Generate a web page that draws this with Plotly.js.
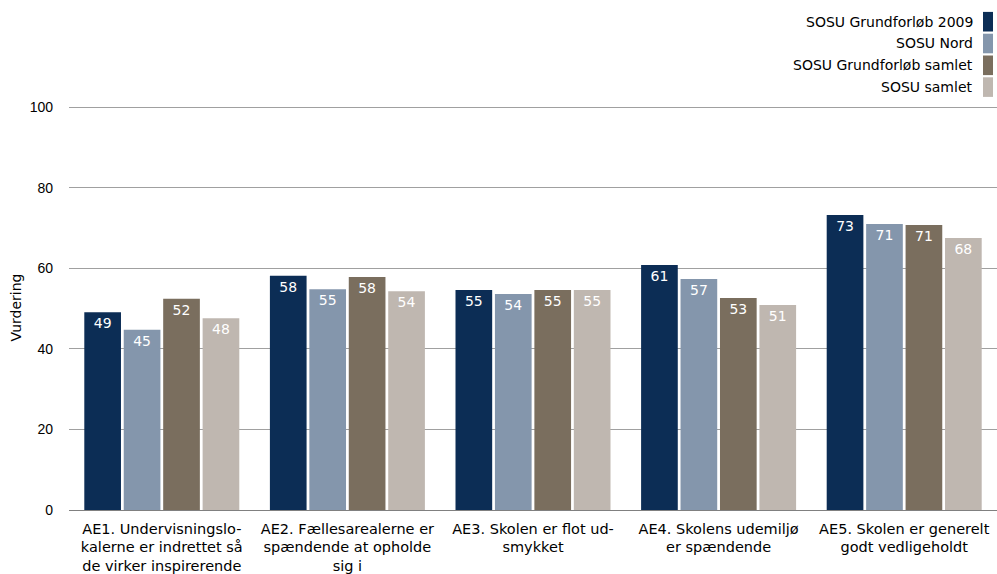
<!DOCTYPE html>
<html>
<head>
<meta charset="utf-8">
<script src="https://cdn.plot.ly/plotly-3.0.1.min.js"></script>
<style>html,body{margin:0;padding:0;background:#fff;}#chart{width:997px;height:574px;}</style>
</head>
<body>
<div id="chart"></div>
<script>
const categories = [
  "AE1. Undervisningslo-<br>kalerne er indrettet så<br>de virker inspirerende",
  "AE2. Fællesarealerne er<br>spændende at opholde<br>sig i",
  "AE3. Skolen er flot ud-<br>smykket",
  "AE4. Skolens udemiljø<br>er spændende",
  "AE5. Skolen er generelt<br>godt vedligeholdt"
];
const seriesNames = ["SOSU Grundforløb 2009", "SOSU Nord", "SOSU Grundforløb samlet", "SOSU samlet"];
const grundforloeb2009 = [49.1, 58.1, 54.6, 60.8, 73.2];
const sosuNord = [44.7, 54.8, 53.6, 57.3, 71.0];
const grundforloebSamlet = [52.4, 57.8, 54.6, 52.6, 70.7];
const sosuSamlet = [47.6, 54.3, 54.6, 50.9, 67.5];
const seriesValues = [grundforloeb2009, sosuNord, grundforloebSamlet, sosuSamlet];
const colors = ["#0c2d55", "#8496ac", "#7a6e5e", "#bfb7b0"];
const yTicks = [0, 20, 40, 60, 80, 100];

const FONT = "DejaVu Sans, Verdana, sans-serif";
const TICKFONT = "Liberation Sans, Arial, sans-serif";

const traces = seriesNames.map((name, i) => ({
  type: "bar",
  name: name,
  x: categories,
  y: seriesValues[i],
  marker: {color: colors[i]},
  texttemplate: "%{y:.0f}",
  textposition: "inside",
  insidetextanchor: "end",
  textangle: 0,
  insidetextfont: {family: FONT, size: 14, color: "#ffffff"},
  hoverinfo: "skip",
  showlegend: false
}));

const ML = 69, MR = 0, MT = 105, MB = 64, W = 997, H = 574;

const layout = {
  width: W, height: H,
  margin: {l: ML, r: MR, t: MT, b: MB},
  paper_bgcolor: "#fff", plot_bgcolor: "#fff",
  barmode: "group",
  bargap: 0.15,
  bargroupgap: 0.07,
  font: {family: FONT, size: 14, color: "#000"},
  xaxis: {
    type: "category",
    tickfont: {family: FONT, size: 14.5, color: "#000"},
    showgrid: false, showline: false, ticks: "", zeroline: false,
    ticklabelstandoff: 8,
    automargin: false
  },
  yaxis: {
    range: [0, 100.5],
    tickvals: yTicks,
    tickfont: {family: TICKFONT, size: 14, color: "#000"},
    showgrid: true, gridcolor: "#a0a0a0", gridwidth: 1,
    zeroline: true, zerolinecolor: "#808080", zerolinewidth: 1,
    showline: false, ticks: "", ticklabelstandoff: 15,
    title: {text: "Vurdering", font: {family: FONT, size: 14, color: "#000"}, standoff: 4},
    automargin: false
  },
  shapes: [],
  annotations: []
};

// legend (text left of swatch), positioned in paper coordinates
const plotW = W - ML - MR, plotH = H - MT - MB;
function px2paperX(px) { return (px - ML) / plotW; }
function px2paperY(py) { return (H - MB - py) / plotH; }
seriesNames.forEach((name, i) => {
  const yc = 21.7 + i * 21.8;
  layout.shapes.push({
    type: "rect", xref: "paper", yref: "paper",
    x0: px2paperX(983), x1: px2paperX(993),
    y0: px2paperY(yc + 9.8), y1: px2paperY(yc - 9.8),
    fillcolor: colors[i], line: {width: 0}
  });
  layout.annotations.push({
    xref: "paper", yref: "paper",
    x: px2paperX(975), y: px2paperY(yc),
    text: name, showarrow: false,
    xanchor: "right", yanchor: "middle",
    font: {family: FONT, size: 14, color: "#000"}
  });
});

Plotly.newPlot("chart", traces, layout, {displayModeBar: false, staticPlot: true});
</script>
</body>
</html>
